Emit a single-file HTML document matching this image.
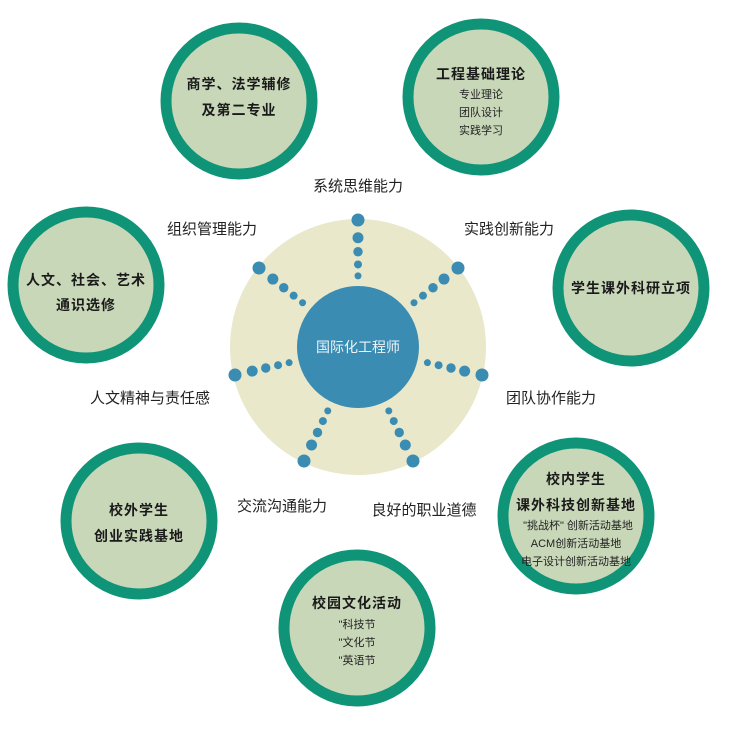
<!DOCTYPE html>
<html><head><meta charset="utf-8"><style>
html,body{margin:0;padding:0;background:#fff;}
svg text{font-family:"Liberation Sans","Noto Sans CJK SC",sans-serif;}
.b{font-weight:bold;font-size:14px;fill:#1a1a1a;letter-spacing:1px}
.s{font-size:11px;fill:#222}
.l{font-size:15px;fill:#222}
</style></head><body>
<svg width="738" height="735" xmlns="http://www.w3.org/2000/svg">
<circle cx="358" cy="347" r="128" fill="#e9e8cb"/>
<circle cx="358" cy="347" r="61" fill="#3a8cb2"/>
<text x="358" y="352" text-anchor="middle" font-size="14" fill="#eef4f8">国际化工程师</text>
<g fill="#3a8cb2" id="dots"></g>
<g fill="#c9d7b9" stroke="#0f9477" stroke-width="11">
<circle cx="239" cy="101" r="73"/>
<circle cx="481" cy="97" r="73"/>
<circle cx="631" cy="288" r="73"/>
<circle cx="86" cy="285" r="73"/>
<circle cx="139" cy="521" r="73"/>
<circle cx="576" cy="516" r="73"/>
<circle cx="357" cy="628" r="73"/>
</g>
<text class="b" x="239" y="89" text-anchor="middle">商学、法学辅修</text>
<text class="b" x="239" y="115" text-anchor="middle">及第二专业</text>
<text class="b" x="481" y="79" text-anchor="middle">工程基础理论</text>
<text class="s" x="481" y="98" text-anchor="middle">专业理论</text>
<text class="s" x="481" y="116" text-anchor="middle">团队设计</text>
<text class="s" x="481" y="134" text-anchor="middle">实践学习</text>
<text class="b" x="631" y="293" text-anchor="middle">学生课外科研立项</text>
<text class="b" x="86" y="285" text-anchor="middle">人文、社会、艺术</text>
<text class="b" x="86" y="310" text-anchor="middle">通识选修</text>
<text class="b" x="139" y="515" text-anchor="middle">校外学生</text>
<text class="b" x="139" y="541" text-anchor="middle">创业实践基地</text>
<text class="b" x="576" y="484" text-anchor="middle">校内学生</text>
<text class="b" x="576" y="510" text-anchor="middle">课外科技创新基地</text>
<text class="s" x="578" y="529" text-anchor="middle">"挑战杯" 创新活动基地</text>
<text class="s" x="576" y="547" text-anchor="middle">ACM创新活动基地</text>
<text class="s" x="576" y="565" text-anchor="middle">电子设计创新活动基地</text>
<text class="b" x="357" y="608" text-anchor="middle">校园文化活动</text>
<text class="s" x="357" y="628" text-anchor="middle">"科技节</text>
<text class="s" x="357" y="646" text-anchor="middle">"文化节</text>
<text class="s" x="357" y="664" text-anchor="middle">"英语节</text>
<text class="l" x="358" y="191" text-anchor="middle">系统思维能力</text>
<text class="l" x="212" y="234" text-anchor="middle">组织管理能力</text>
<text class="l" x="509" y="234" text-anchor="middle">实践创新能力</text>
<text class="l" x="150" y="403" text-anchor="middle">人文精神与责任感</text>
<text class="l" x="551" y="403" text-anchor="middle">团队协作能力</text>
<text class="l" x="282" y="511" text-anchor="middle">交流沟通能力</text>
<text class="l" x="424" y="515" text-anchor="middle">良好的职业道德</text>
<script>
var g=document.getElementById('dots');
var rays=[[0,-127],[-99,-79],[100,-79],[-123,28],[124,28],[-54,114],[55,114]];
var ds=[[1,6.5],[0.86,5.5],[0.75,4.7],[0.65,4],[0.56,3.5]];
rays.forEach(function(r){var L=Math.hypot(r[0],r[1]);ds.forEach(function(d){
var c=document.createElementNS('http://www.w3.org/2000/svg','circle');
c.setAttribute('cx',358+r[0]*d[0]);c.setAttribute('cy',347+r[1]*d[0]);c.setAttribute('r',d[1]);g.appendChild(c);});});
</script>
</svg>
</body></html>
